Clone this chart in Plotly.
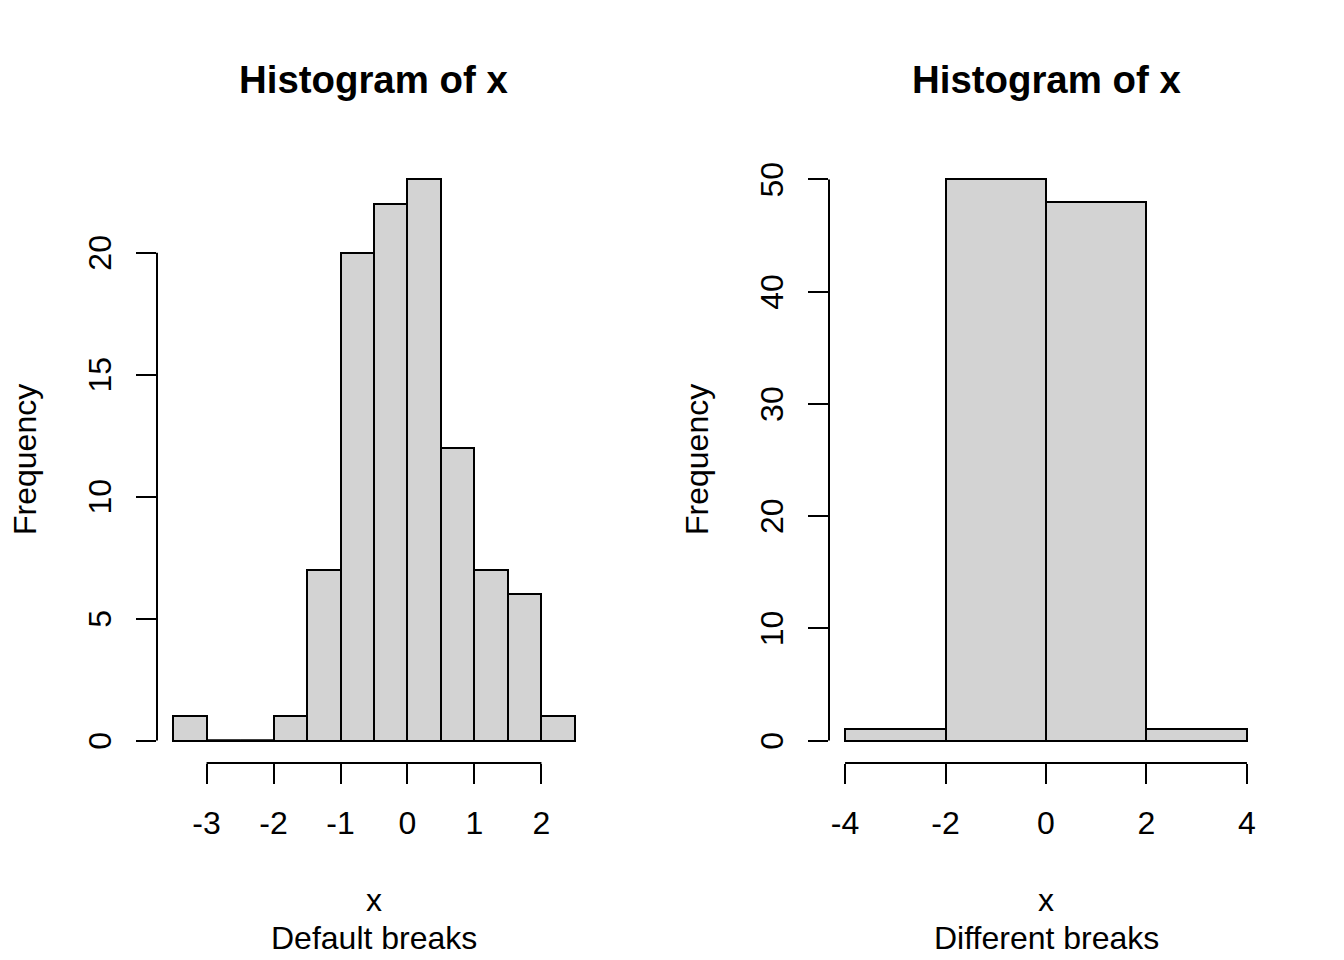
import plotly.graph_objects as go

# data
left_breaks = [-3.5, -3.0, -2.5, -2.0, -1.5, -1.0, -0.5, 0.0, 0.5, 1.0, 1.5, 2.0, 2.5]
left_counts = [1, 0, 0, 1, 7, 20, 22, 23, 12, 7, 6, 1]
left_xticks = [-3, -2, -1, 0, 1, 2]
left_yticks = [0, 5, 10, 15, 20]

right_breaks = [-4, -2, 0, 2, 4]
right_counts = [1, 50, 48, 1]
right_xticks = [-4, -2, 0, 2, 4]
right_yticks = [0, 10, 20, 30, 40, 50]

FONT = "Liberation Sans, Arial, sans-serif"
W, H = 1344, 960
OFF = 8  # the page body has an 8px margin


def px_x(p):  # pixel -> paper
    return (p - OFF) / W


def px_y(p):
    return 1 - (p - OFF) / H


def rng(lo, hi):  # R style 4% padding
    d = (hi - lo) * 0.04
    return [lo - d, hi + d]


fig = go.Figure()

panels = [
    (left_breaks, left_counts, left_xticks, left_yticks, "x", "y", 157, 591, "Default breaks"),
    (right_breaks, right_counts, right_xticks, right_yticks, "x2", "y2", 829, 1263, "Different breaks"),
]

layout_axes = {}
for i, (br, cnt, xt, yt, xa, ya, x0, x1, sub) in enumerate(panels):
    mids = [(br[k] + br[k + 1]) / 2 for k in range(len(cnt))]
    wids = [br[k + 1] - br[k] for k in range(len(cnt))]
    fig.add_trace(go.Bar(
        x=mids, y=cnt, width=wids,
        marker=dict(color="#D3D3D3", line=dict(color="black", width=2)),
        xaxis=xa, yaxis=ya, showlegend=False,
    ))
    # empty bins still show their bottom edge
    for k, c in enumerate(cnt):
        if c == 0:
            fig.add_trace(go.Scatter(
                x=[br[k], br[k + 1]], y=[c, c], mode="lines",
                line=dict(color="black", width=2.6),
                xaxis=xa, yaxis=ya, showlegend=False,
            ))

    sfx = "" if i == 0 else "2"
    layout_axes["xaxis" + sfx] = dict(
        domain=[px_x(x0), px_x(x1)], range=rng(br[0], br[-1]),
        tickvals=xt, ticktext=[str(v) for v in xt],
        ticks="outside", ticklen=20, tickwidth=2, tickcolor="black",
        showline=False, showgrid=False, zeroline=False,
        tickfont=dict(family=FONT, size=32, color="black"),
        ticklabelstandoff=12, anchor=ya,
    )
    layout_axes["yaxis" + sfx] = dict(
        domain=[px_y(763), px_y(157)], range=rng(0, max(cnt)),
        tickvals=yt, ticktext=[str(v) for v in yt],
        ticks="outside", ticklen=20, tickwidth=2, tickcolor="black",
        showline=False, showgrid=False, zeroline=False, tickangle=-90,
        tickfont=dict(family=FONT, size=32, color="black"),
        ticklabelstandoff=12, ticklabelshift=5, anchor=xa,
    )

    # axis lines only between first and last tick, as in base R
    fig.add_shape(type="line", xref=xa, yref=ya + " domain",
                  x0=xt[0], x1=xt[-1], y0=0, y1=0,
                  line=dict(color="black", width=2))
    fig.add_shape(type="line", xref=xa + " domain", yref=ya,
                  x0=0, x1=0, y0=yt[0], y1=yt[-1],
                  line=dict(color="black", width=2))

    cx = (x0 + x1) / 2
    fig.add_annotation(text="<b>Histogram of x</b>", x=px_x(cx), y=px_y(80),
                       xref="paper", yref="paper", showarrow=False,
                       xanchor="center", yanchor="middle",
                       font=dict(family=FONT, size=38.4, color="black"))
    fig.add_annotation(text="x", x=px_x(cx), y=px_y(900),
                       xref="paper", yref="paper", showarrow=False,
                       xanchor="center", yanchor="middle",
                       font=dict(family=FONT, size=32, color="black"))
    fig.add_annotation(text=sub, x=px_x(cx), y=px_y(938),
                       xref="paper", yref="paper", showarrow=False,
                       xanchor="center", yanchor="middle",
                       font=dict(family=FONT, size=32, color="black"))
    fig.add_annotation(text="Frequency", x=px_x(x0 - 132), y=px_y(460),
                       xref="paper", yref="paper", showarrow=False,
                       xanchor="center", yanchor="middle", textangle=-90,
                       font=dict(family=FONT, size=32, color="black"))

fig.update_layout(
    width=W, height=H,
    margin=dict(l=0, r=0, t=0, b=0),
    plot_bgcolor="white", paper_bgcolor="white",
    bargap=0,
    **layout_axes,
)

fig.write_html("out.html")
